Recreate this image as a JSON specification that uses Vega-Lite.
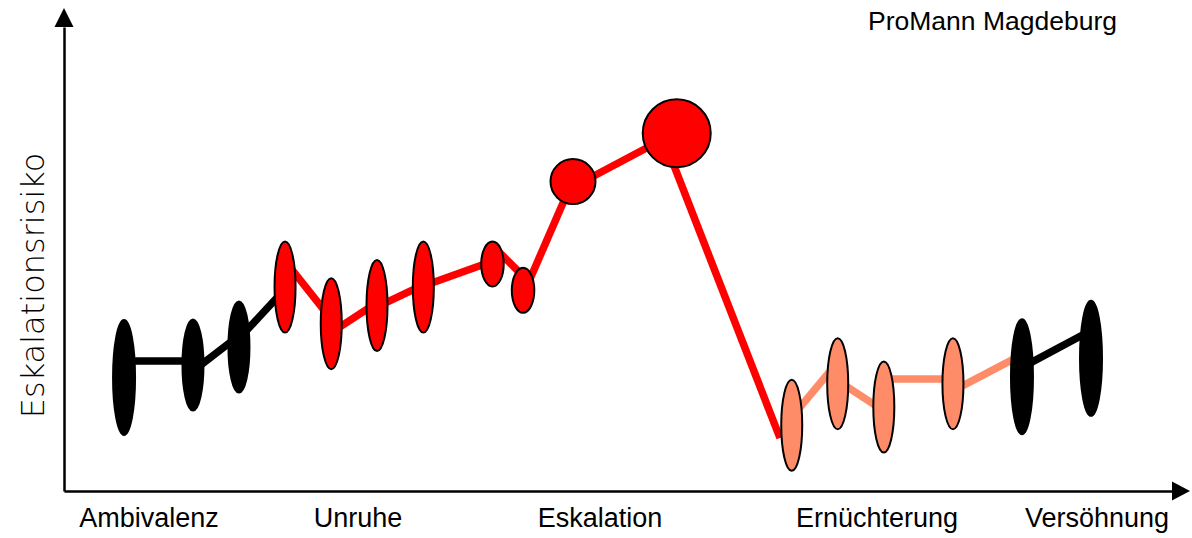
{
  "$schema": "https://vega.github.io/schema/vega-lite/v6.json",
  "width": 1108,
  "height": 464,
  "autosize": {"type": "none"},
  "padding": {"left": 64, "top": 27, "right": 20, "bottom": 47},
  "background": "white",
  "config": {
    "view": {"stroke": null},
    "axis": {"grid": false, "ticks": false, "labels": false, "domain": true, "domainColor": "black", "domainWidth": 2.5},
    "axisY": {"titleFont": "DejaVu Sans", "titleFontWeight": 200, "titleFontSize": 32, "titleColor": "black", "titleAngle": 270, "titleX": -21, "titleY": 258, "titleAlign": "center", "titleBaseline": "alphabetic"}
  },
  "title": {
    "text": "ProMann Magdeburg",
    "anchor": "end",
    "frame": "group",
    "font": "Liberation Sans",
    "fontSize": 26.5,
    "fontWeight": "normal",
    "color": "black",
    "dx": -55,
    "dy": 25,
    "offset": -23,
    "baseline": "alphabetic"
  },
  "datasets": {
    "segmente": [
      {"t1": 5.42, "r1": 28.02, "t2": 11.64, "r2": 28.02, "verlauf": "ruhig"},
      {"t1": 11.64, "r1": 25.86, "t2": 15.79, "r2": 33.49, "verlauf": "ruhig"},
      {"t1": 15.79, "r1": 32.82, "t2": 19.95, "r2": 43.53, "verlauf": "ruhig"},
      {"t1": 19.95, "r1": 49.57, "t2": 24.12, "r2": 37.03, "verlauf": "eskalierend"},
      {"t1": 24.12, "r1": 34.14, "t2": 28.25, "r2": 40.58, "verlauf": "eskalierend"},
      {"t1": 28.25, "r1": 39.66, "t2": 32.43, "r2": 44.40, "verlauf": "eskalierend"},
      {"t1": 32.43, "r1": 44.18, "t2": 38.67, "r2": 49.50, "verlauf": "eskalierend"},
      {"t1": 38.67, "r1": 52.91, "t2": 41.43, "r2": 46.34, "verlauf": "eskalierend"},
      {"t1": 41.43, "r1": 42.24, "t2": 45.94, "r2": 67.03, "verlauf": "eskalierend"},
      {"t1": 45.94, "r1": 65.52, "t2": 55.30, "r2": 77.37, "verlauf": "eskalierend"},
      {"t1": 54.15, "r1": 75.65, "t2": 64.62, "r2": 11.42, "verlauf": "eskalierend"},
      {"t1": 65.68, "r1": 15.91, "t2": 69.83, "r2": 27.80, "verlauf": "ernüchtert"},
      {"t1": 69.83, "r1": 23.77, "t2": 73.99, "r2": 17.28, "verlauf": "ernüchtert"},
      {"t1": 73.99, "r1": 24.14, "t2": 80.23, "r2": 24.14, "verlauf": "ernüchtert"},
      {"t1": 80.23, "r1": 21.57, "t2": 86.46, "r2": 29.37, "verlauf": "ernüchtert"},
      {"t1": 86.46, "r1": 26.64, "t2": 92.69, "r2": 34.59, "verlauf": "ruhig"}
    ],
    "ellipsen": [
      {"t": 5.42, "r": 24.46, "form": "gross", "verlauf": "ruhig"},
      {"t": 11.64, "r": 27.16, "form": "oval", "verlauf": "ruhig"},
      {"t": 15.79, "r": 31.03, "form": "oval", "verlauf": "ruhig"},
      {"t": 19.95, "r": 43.97, "form": "oval", "verlauf": "eskalierend"},
      {"t": 24.12, "r": 36.06, "form": "oval", "verlauf": "eskalierend"},
      {"t": 28.25, "r": 39.98, "form": "oval", "verlauf": "eskalierend"},
      {"t": 32.43, "r": 43.97, "form": "oval", "verlauf": "eskalierend"},
      {"t": 38.67, "r": 48.92, "form": "klein", "verlauf": "eskalierend"},
      {"t": 41.43, "r": 43.25, "form": "klein", "verlauf": "eskalierend"},
      {"t": 45.94, "r": 66.70, "form": "kreis", "verlauf": "eskalierend"},
      {"t": 55.30, "r": 77.09, "form": "kreis-gross", "verlauf": "eskalierend"},
      {"t": 65.68, "r": 14.16, "form": "oval", "verlauf": "ernüchtert"},
      {"t": 69.83, "r": 23.13, "form": "oval", "verlauf": "ernüchtert"},
      {"t": 73.99, "r": 18.10, "form": "oval", "verlauf": "ernüchtert"},
      {"t": 80.23, "r": 23.13, "form": "oval", "verlauf": "ernüchtert"},
      {"t": 86.46, "r": 24.63, "form": "gross", "verlauf": "ruhig"},
      {"t": 92.69, "r": 28.60, "form": "gross", "verlauf": "ruhig"}
    ],
    "phasen": [
      {"t": 7.67, "phase": "Ambivalenz"},
      {"t": 26.53, "phase": "Unruhe"},
      {"t": 48.38, "phase": "Eskalation"},
      {"t": 73.38, "phase": "Ernüchterung"},
      {"t": 93.23, "phase": "Versöhnung"}
    ]
  },
  "layer": [
    {
      "data": {"name": "segmente"},
      "mark": {"type": "rule", "strokeWidth": 7.5, "strokeCap": "butt"},
      "encoding": {
        "x": {"field": "t1", "type": "quantitative", "title": null, "scale": {"domain": [0, 100], "nice": false, "zero": false}},
        "y": {"field": "r1", "type": "quantitative", "title": "Eskalationsrisiko", "scale": {"domain": [0, 100], "nice": false, "zero": false}},
        "x2": {"field": "t2"},
        "y2": {"field": "r2"},
        "color": {"field": "verlauf", "type": "nominal", "scale": {"domain": ["ruhig", "eskalierend", "ernüchtert"], "range": ["#000000", "#ff0000", "#ff8c69"]}, "legend": null}
      }
    },
    {
      "data": {"name": "ellipsen"},
      "mark": {"type": "point", "filled": true, "opacity": 1, "size": 4, "stroke": "black", "strokeWidth": 2},
      "encoding": {
        "x": {"field": "t", "type": "quantitative", "title": null},
        "y": {"field": "r", "type": "quantitative", "title": "Eskalationsrisiko"},
        "color": {"field": "verlauf", "type": "nominal", "legend": null},
        "shape": {"field": "form", "type": "nominal", "legend": null, "scale": {
          "domain": ["gross", "oval", "klein", "kreis", "kreis-gross"],
          "range": [
            "M0,-57.5C6.075,-57.5,11,-31.76,11,0C11,31.76,6.075,57.5,0,57.5C-6.075,57.5,-11,31.76,-11,0C-11,-31.76,-6.075,-57.5,0,-57.5Z",
            "M0,-45.5C5.8,-45.5,10.5,-25.13,10.5,0C10.5,25.13,5.8,45.5,0,45.5C-5.8,45.5,-10.5,25.13,-10.5,0C-10.5,-25.13,-5.8,-45.5,0,-45.5Z",
            "M0,-22.5C6.21,-22.5,11.25,-12.43,11.25,0C11.25,12.43,6.21,22.5,0,22.5C-6.21,22.5,-11.25,12.43,-11.25,0C-11.25,-12.43,-6.21,-22.5,0,-22.5Z",
            "M0,-22.5C12.43,-22.5,22.5,-12.43,22.5,0C22.5,12.43,12.43,22.5,0,22.5C-12.43,22.5,-22.5,12.43,-22.5,0C-22.5,-12.43,-12.43,-22.5,0,-22.5Z",
            "M0,-34C18.78,-34,34,-18.78,34,0C34,18.78,18.78,34,0,34C-18.78,34,-34,18.78,-34,0C-34,-18.78,-18.78,-34,0,-34Z"
          ]}}
      }
    },
    {
      "data": {"name": "phasen"},
      "mark": {"type": "text", "font": "Liberation Sans", "fontSize": 27, "align": "center", "baseline": "alphabetic", "dy": 36, "color": "black"},
      "encoding": {
        "x": {"field": "t", "type": "quantitative", "title": null},
        "y": {"datum": 0, "type": "quantitative", "title": "Eskalationsrisiko"},
        "text": {"field": "phase"}
      }
    },
    {
      "data": {"values": [{}]},
      "mark": {"type": "point", "filled": true, "opacity": 1, "size": 4, "color": "black", "shape": "M18,0L0,-9.5L0,9.5Z"},
      "encoding": {
        "x": {"datum": 100, "type": "quantitative", "title": null},
        "y": {"datum": 0, "type": "quantitative", "title": "Eskalationsrisiko"}
      }
    },
    {
      "data": {"values": [{}]},
      "mark": {"type": "point", "filled": true, "opacity": 1, "size": 4, "color": "black", "shape": "M0,-19L9.5,0L-9.5,0Z"},
      "encoding": {
        "x": {"datum": 0, "type": "quantitative", "title": null},
        "y": {"datum": 100, "type": "quantitative", "title": "Eskalationsrisiko"}
      }
    }
  ]
}
